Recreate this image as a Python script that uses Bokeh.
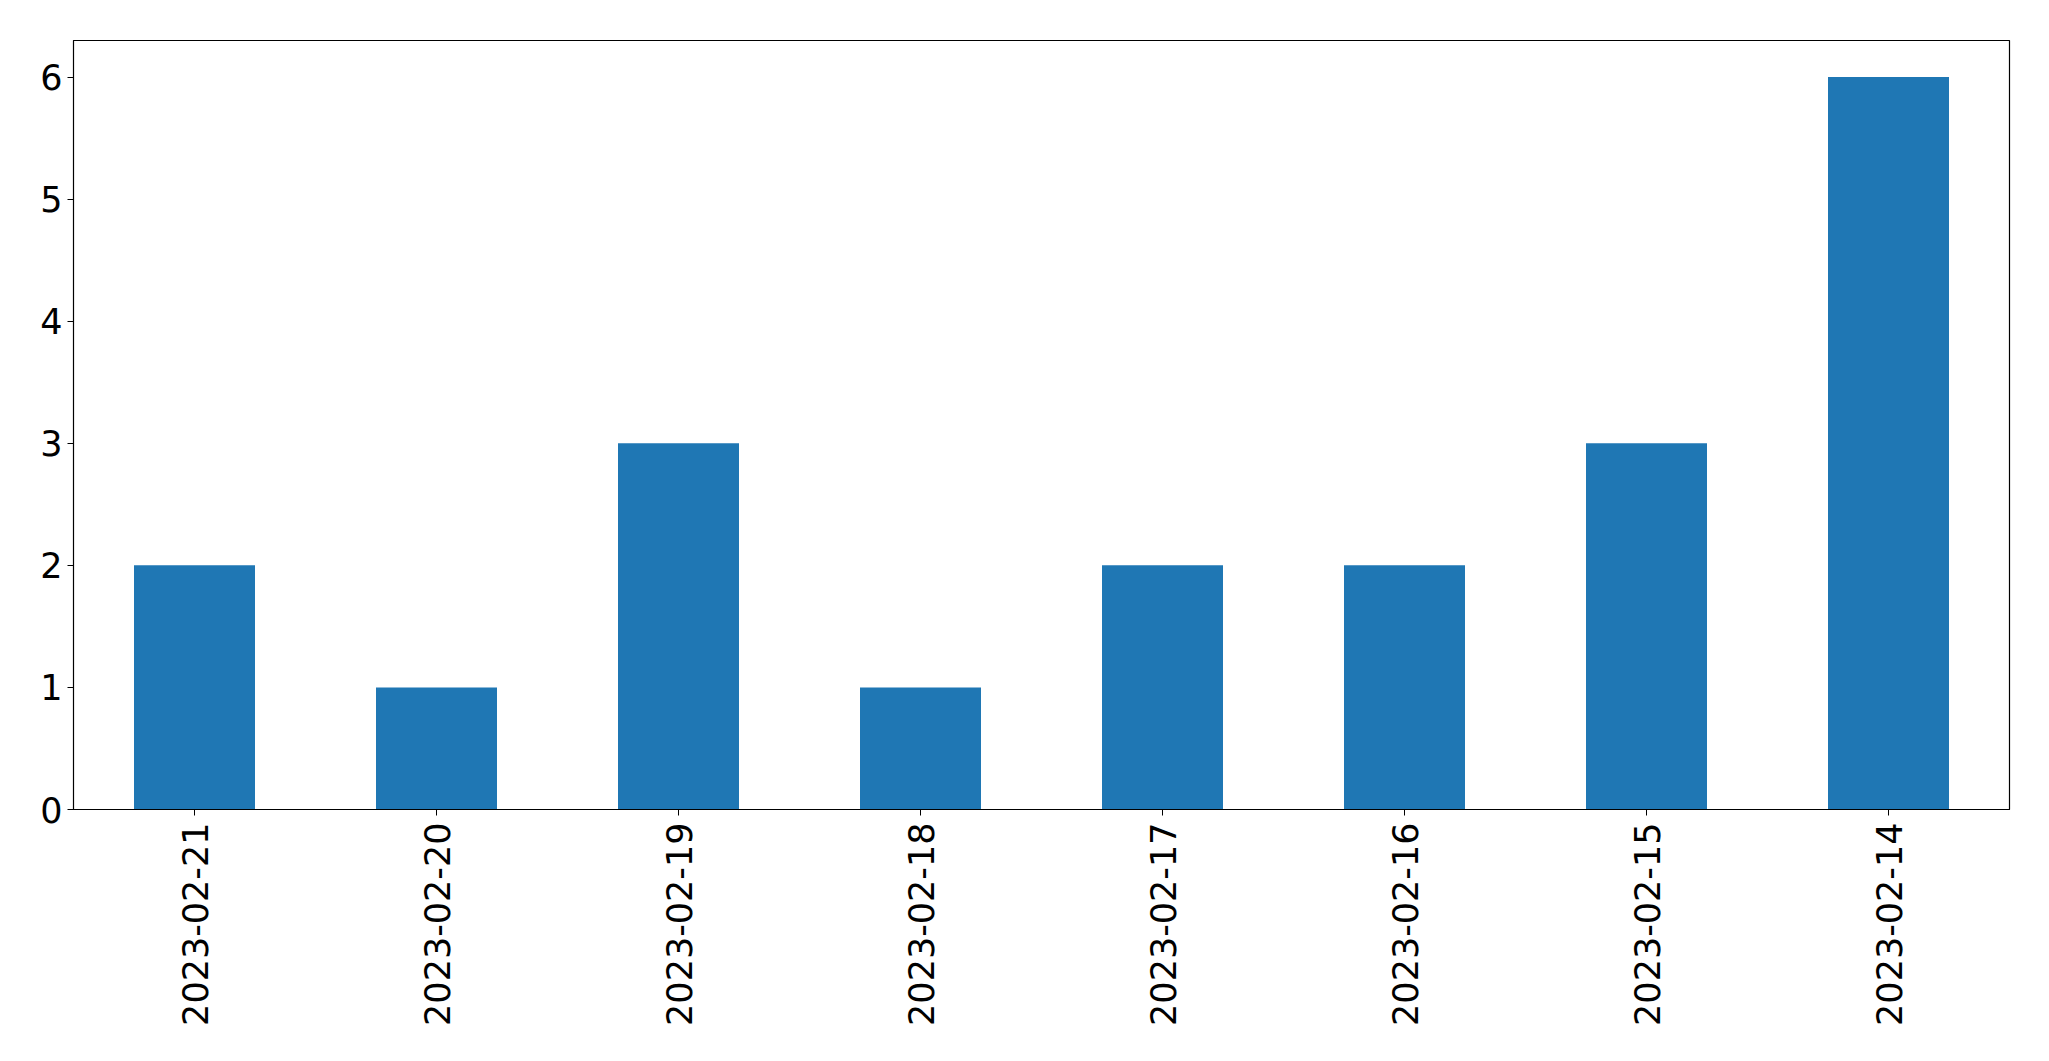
import math
from bokeh.plotting import figure
from bokeh.models import FactorRange, Range1d, SingleIntervalTicker
from bokeh.embed import file_html
from bokeh.resources import INLINE

dates = ["2023-02-21", "2023-02-20", "2023-02-19", "2023-02-18",
         "2023-02-17", "2023-02-16", "2023-02-15", "2023-02-14"]
counts = [2, 1, 3, 1, 2, 2, 3, 6]

p = figure(width=2041, height=1040, x_range=FactorRange(*dates),
           y_range=Range1d(0, 6.3), output_backend="svg", toolbar_location=None,
           min_border_left=73, min_border_top=40, min_border_right=32, min_border_bottom=231)

p.vbar(x=dates, top=counts, width=0.5, bottom=0, color="#1f77b4", line_color=None)

p.xgrid.visible = False
p.ygrid.visible = False
p.outline_line_color = "black"
p.outline_line_width = 1.2
p.outline_line_alpha = 1.0

for ax in (p.xaxis, p.yaxis):
    ax.axis_line_color = "black"
    ax.major_tick_line_color = "black"
    ax.major_tick_out = 6
    ax.major_tick_in = 0
    ax.minor_tick_line_color = None
    ax.major_label_text_font = "DejaVu Sans"
    ax.major_label_text_font_size = "35px"
    ax.major_label_text_color = "black"

p.yaxis.ticker = SingleIntervalTicker(interval=1)
p.yaxis.major_label_standoff = 5
p.xaxis.major_label_orientation = math.pi / 2
p.xaxis.major_label_standoff = 7

open("out.html", "w").write(file_html(p, INLINE))
